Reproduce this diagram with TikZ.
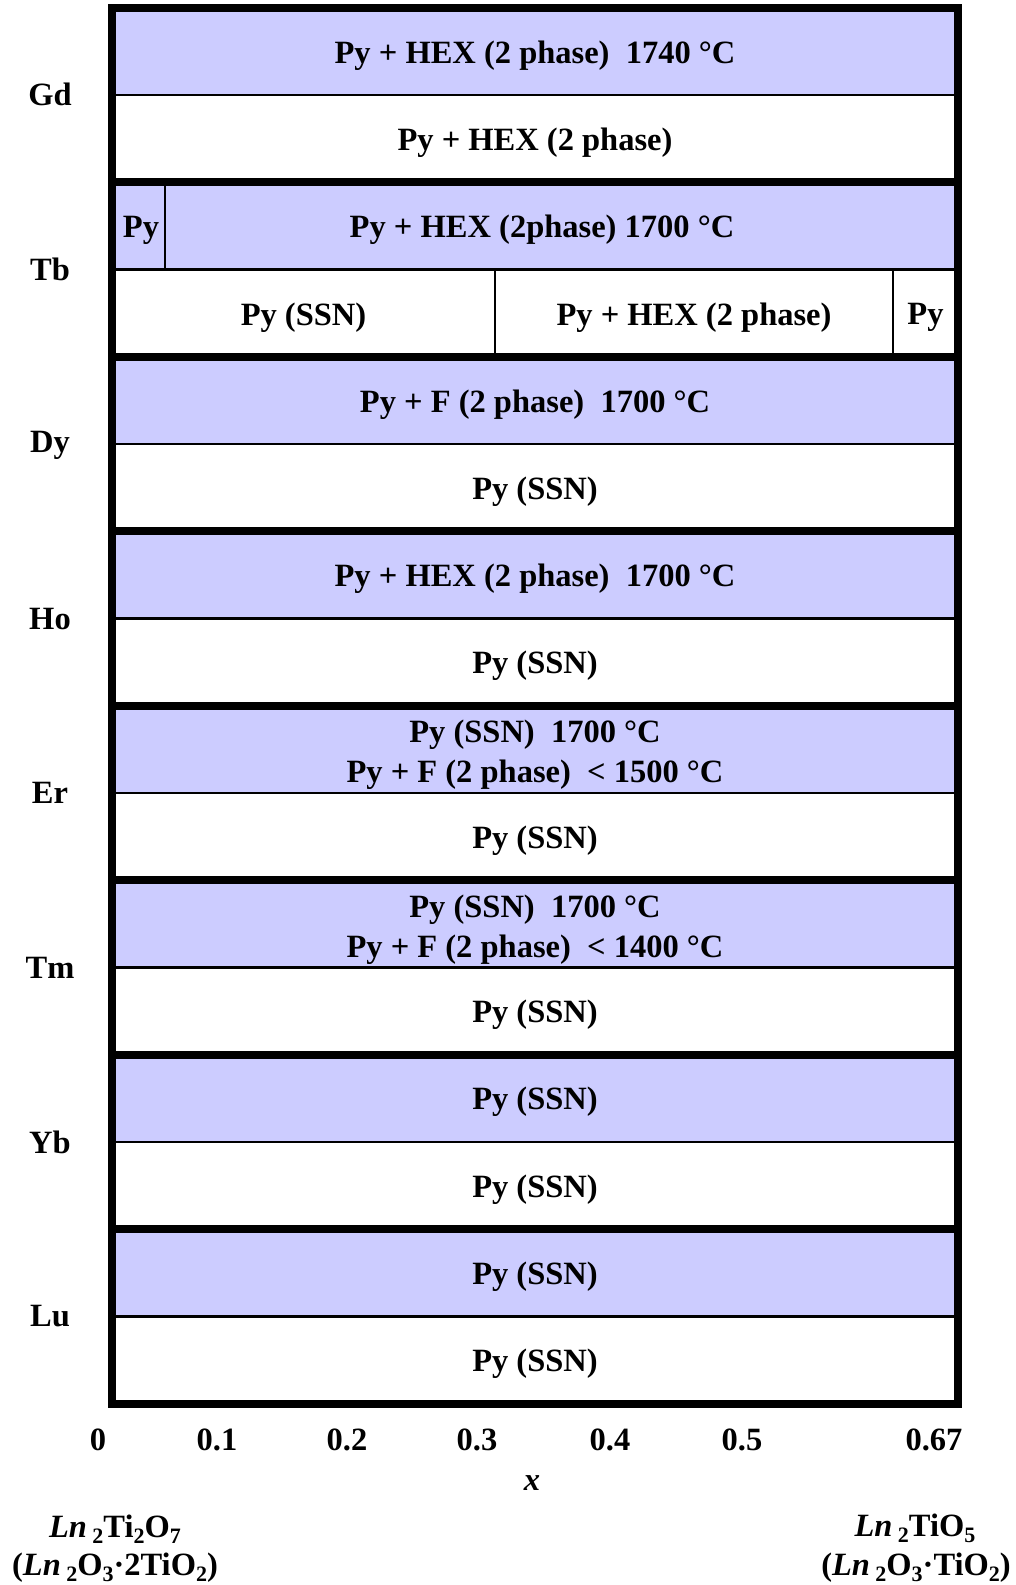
\documentclass[tikz,border=0pt]{standalone}
\usepackage{fontspec}
\setmainfont{Liberation Serif}
\definecolor{lav}{HTML}{CCCCFF}
\newcommand\sbs[1]{\raisebox{-0.2em}{\fontsize{22}{22}\selectfont #1}}
\begin{document}
\begin{tikzpicture}[x=1pt,y=-1pt,
  lbl/.style={font=\fontsize{32.5}{40}\selectfont\bfseries, inner sep=0pt, align=center},
  rowtxt/.style={lbl, yshift=-4pt},
  thin/.style={line width=2.5, draw=black},
  thick/.style={line width=8, draw=black}]
\useasboundingbox (0,0) rectangle (1016,1585);
\def\H{174.4375}
\foreach \k in {0,...,7} {
  \fill[lav] (112,{8+\k*\H}) rectangle (958,{8+\k*\H+\H/2});
  \draw[thin] (112,{8+\k*\H+\H/2}) -- (958,{8+\k*\H+\H/2});
}
% Tb dividers
\draw[thin] (165,182.44) -- (165,269.66);
\draw[thin] (495,269.66) -- (495,356.88);
\draw[thin] (893,269.66) -- (893,356.88);
\foreach \k in {1,...,7} \draw[thick] (112,{8+\k*\H}) -- (958,{8+\k*\H});
\draw[thick] (112,8) rectangle (958,1403.5);

% row texts
\node[rowtxt] (gd1) at (535,51.6) {Py + HEX (2 phase)~ 1740 °C};
\node[rowtxt] (gd2) at (535,138.8) {Py + HEX (2 phase)};
\node[rowtxt] (tb1a) at (141,226.05) {Py};
\node[rowtxt] (tb1b) at (542,226.05) {Py + HEX (2phase) 1700 °C};
\node[rowtxt] (tb2a) at (303.5,313.3) {Py (SSN)};
\node[rowtxt] (tb2b) at (694,313.3) {Py + HEX (2 phase)};
\node[rowtxt] (tb2c) at (925.5,313.3) {Py};
\node[rowtxt] (dy1) at (535,400.5) {Py + F (2 phase)~ 1700 °C};
\node[rowtxt] (dy2) at (535,487.7) {Py (SSN)};
\node[rowtxt] (ho1) at (535,574.9) {Py + HEX (2 phase)~ 1700 °C};
\node[rowtxt] (ho2) at (535,662.1) {Py (SSN)};
\node[rowtxt] (er1) at (535,751) {Py (SSN)~ 1700 °C\\Py + F (2 phase)~ < 1500 °C};
\node[rowtxt] (er2) at (535,836.6) {Py (SSN)};
\node[rowtxt] (tm1) at (535,925.4) {Py (SSN)~ 1700 °C\\Py + F (2 phase)~ < 1400 °C};
\node[rowtxt] (tm2) at (535,1011.0) {Py (SSN)};
\node[rowtxt] (yb1) at (535,1098.2) {Py (SSN)};
\node[rowtxt] (yb2) at (535,1185.4) {Py (SSN)};
\node[rowtxt] (lu1) at (535,1272.7) {Py (SSN)};
\node[rowtxt] (lu2) at (535,1359.9) {Py (SSN)};

% element labels
\node[lbl] (gd) at (50,94) {Gd};
\node[lbl] (tb) at (50,269.7) {Tb};
\node[lbl] (dy) at (50,445.5) {Dy};
\node[lbl] (ho) at (50,619.5) {Ho};
\node[lbl] (er) at (50,793) {Er};
\node[lbl] (tm) at (50,967.4) {Tm};
\node[lbl] (yb) at (50,1142.5) {Yb};
\node[lbl] (lu) at (50,1316.3) {Lu};

% axis
\node[lbl] (t0) at (98,1440) {0};
\node[lbl] (t1) at (217,1440) {0.1};
\node[lbl] (t2) at (347,1440) {0.2};
\node[lbl] (t3) at (477,1440) {0.3};
\node[lbl] (t4) at (610,1440) {0.4};
\node[lbl] (t5) at (742,1440) {0.5};
\node[lbl] (t67) at (934,1440) {0.67};
\node[lbl] (xl) at (532,1483) {\itshape x};

% end members
\node[lbl, anchor=base] (la) at (115,1537) {\textit{Ln}\,\sbs{2}Ti\sbs{2}O\sbs{7}};
\node[lbl, anchor=base] (lb) at (115,1575) {(\textit{Ln}\,\sbs{2}O\sbs{3}·2TiO\sbs{2})};
\node[lbl, anchor=base] (ra) at (915,1536) {\textit{Ln}\,\sbs{2}TiO\sbs{5}};
\node[lbl, anchor=base] (rb) at (916,1575) {(\textit{Ln}\,\sbs{2}O\sbs{3}·TiO\sbs{2})};
\end{tikzpicture}
\end{document}
